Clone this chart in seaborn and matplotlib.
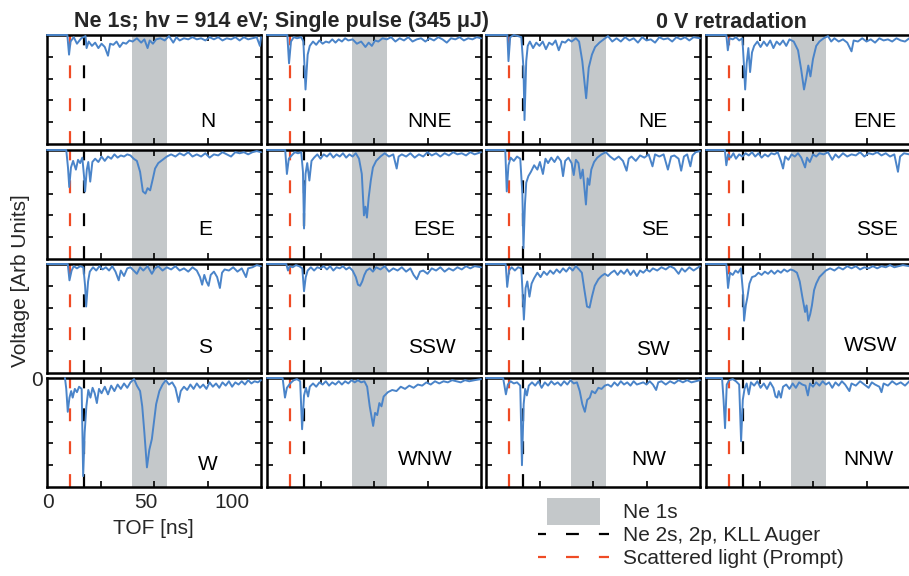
"""
Ne 1s TOF traces, 16 detector directions, 0 V retardation.
"""
import matplotlib
matplotlib.use("Agg")
import matplotlib.pyplot as plt
import seaborn as sns
from matplotlib.lines import Line2D
from matplotlib.patches import Patch, Rectangle
from matplotlib.legend_handler import HandlerPatch

sns.set_theme(style="white")
plt.rcParams["font.family"] = ["Liberation Sans", "DejaVu Sans"]

# %% data: (TOF [ns], voltage [arb])
PROMPT_T = 10.8            # scattered light
AUGER_T = 17.5             # Ne 2s, 2p, KLL Auger
NE1S_BAND = (39.7, 56.0)   # Ne 1s window

N_trace = [(0, 0), (9.5, 0), (10.3, -0.9), (11, -0.3), (12.5, -0.1), (14, -0.4), (16, -0.15), (18, -0.05),
           (18.5, -0.6), (19.5, -0.3), (21, -0.5), (22.5, -0.35), (24, -0.6), (25.5, -0.4), (27, -0.55),
           (28.5, -0.95), (29.5, -0.4), (31, -0.45), (32.5, -0.3), (34, -0.55), (35.5, -0.35), (37, -0.4),
           (38.5, -0.25), (40, -0.3), (42, -0.15), (44, -0.35), (45.5, -0.2), (47, -0.6), (48, -0.25),
           (49.5, -0.4), (51, -0.2), (53, -0.15), (55, -0.25), (57, -0.05), (59, -0.35), (60.5, -0.1),
           (62, -0.25), (64, -0.15), (66, -0.2), (68, -0.1), (70, -0.2), (72, -0.15), (74, -0.25), (76, -0.1),
           (78, -0.2), (80, -0.1), (82, -0.25), (84, -0.15), (86, -0.2), (88, -0.1), (90, -0.25), (92, -0.1),
           (94, -0.2), (96, -0.15), (98, -0.1), (99.5, -0.5), (100, -0.1)]
NNE_trace = [(0, 0), (9.5, 0), (10.3, -1.3), (11.2, -0.3), (12.5, -0.1), (14, -0.15), (16, -0.1), (17, -0.3),
             (18, -2.5), (19, -0.9), (20, -0.5), (21.5, -0.3), (23, -0.45), (24.5, -0.25), (26, -0.4),
             (27.5, -0.3), (29, -0.35), (30.5, -0.2), (32, -0.35), (33.5, -0.2), (35, -0.3), (36.5, -0.15),
             (38, -0.25), (40, -0.2), (42, -0.4), (44, -0.3), (46, -0.55), (47.5, -0.35), (49, -0.5),
             (50.5, -0.25), (52, -0.3), (54, -0.15), (56, -0.2), (58, -0.1), (60, -0.3), (62, -0.15),
             (64, -0.25), (66, -0.1), (68, -0.3), (70, -0.2), (72, -0.15), (74, -0.3), (76, -0.15), (78, -0.25),
             (80, -0.1), (82, -0.2), (84, -0.35), (86, -0.15), (88, -0.2), (90, -0.1), (92, -0.25), (94, -0.15),
             (96, -0.2), (98, -0.1), (100, -0.15)]
NE_trace = [(0, 0), (10, 0), (10.5, -1.2), (11.3, -0.1), (13, 0), (15, -0.05), (16.5, -0.1), (17.5, -1.5),
            (18, -3.9), (18.8, -1.2), (19.5, -0.5), (20.5, -0.3), (22, -0.6), (23.5, -0.35), (25, -0.5),
            (26.5, -0.3), (28, -0.65), (29.5, -0.35), (31, -0.45), (32.5, -0.25), (34, -0.7), (35.5, -0.3),
            (37, -0.35), (38.5, -0.2), (40, -0.3), (42, -0.15), (43.5, -0.3), (45, -1.2), (46.8, -2.9),
            (48, -1.5), (49.5, -0.9), (51, -0.55), (53, -0.35), (55, -0.2), (57, -0.05), (59, -0.3), (61, -0.15),
            (63, -0.3), (65, -0.1), (67, -0.25), (69, -0.15), (71, -0.35), (73, -0.1), (75, -0.25), (77, -0.2),
            (79, -0.35), (81, -0.1), (83, -0.2), (85, -0.15), (87, -0.3), (89, -0.1), (91, -0.2), (93, -0.1),
            (95, -0.25), (97, -0.1), (100, -0.15)]
ENE_trace = [(0, 0), (9.5, 0), (10.2, -0.7), (11, -0.15), (12.5, -0.2), (14, -0.1), (15.5, -0.25), (17, -0.15),
             (17.8, -1.5), (18.3, -2.5), (19, -1.3), (19.8, -0.6), (20.6, -1.7), (21.5, -0.8), (22.5, -0.5),
             (24, -0.3), (25.5, -0.55), (27, -0.3), (28.5, -0.5), (30, -0.25), (31.5, -0.6), (33, -0.3),
             (34.5, -0.45), (36, -0.25), (37.5, -0.5), (39, -0.2), (41, -0.3), (43, -0.7), (44.5, -1.6),
             (45.8, -2.5), (46.8, -2.0), (47.8, -1.4), (48.8, -1.9), (50, -1.1), (51.5, -0.5), (53, -0.3),
             (55, -0.15), (57, -0.05), (58.5, -0.3), (60, -0.15), (62, -0.3), (64, -0.2), (66, -0.35), (68, -0.75),
             (69, -0.25), (71, -0.3), (73, -0.15), (75, -0.3), (77, -0.2), (79, -0.35), (81, -0.15), (83, -0.25),
             (85, -0.2), (87, -0.3), (89, -0.15), (91, -0.25), (93, -0.3), (95, -0.15), (97, -0.25), (100, -0.2)]
E_trace = [(0, 0), (9, 0), (9.8, -0.8), (10.4, -1.7), (11.2, -0.8), (12.2, -0.5), (13.5, -0.9), (14.5, -0.45),
           (15.5, -0.6), (16.5, -0.35), (17.3, -1.2), (17.8, -1.9), (18.6, -0.9), (19.3, -0.55), (20.2, -1.45),
           (21.2, -0.55), (22.5, -0.4), (24, -0.55), (25.5, -0.3), (27, -0.5), (28.5, -0.3), (30, -0.4),
           (31.5, -0.2), (33, -0.35), (34.5, -0.25), (36, -0.3), (37.5, -0.2), (39, -0.25), (40.5, -0.4),
           (42, -0.5), (43.5, -1.0), (44.8, -1.9), (46, -2.0), (47, -1.75), (48.2, -1.85), (49.5, -1.3),
           (50.5, -0.85), (52, -0.6), (54, -0.45), (56, -0.3), (58, -0.2), (60, -0.3), (62, -0.15), (64, -0.25),
           (66, -0.1), (68, -0.3), (70, -0.2), (72, -0.3), (74, -0.15), (76, -0.35), (78, -0.2), (80, -0.25),
           (82, -0.1), (84, -0.2), (86, -0.3), (88, -0.1), (90, -0.15), (92, -0.1), (94, -0.2), (96, -0.1),
           (98, -0.05), (100, -0.1)]
ESE_trace = [(0, 0), (8.5, 0), (9.3, -1.1), (10.2, -0.4), (11.5, -0.25), (13, -0.1), (14.5, -0.15), (16, -0.1),
             (16.8, -1.0), (17.3, -3.6), (18, -1.1), (18.8, -0.6), (19.8, -1.4), (20.8, -0.5), (22, -0.35),
             (23.5, -0.2), (25, -0.4), (26.5, -0.2), (28, -0.3), (29.5, -0.15), (31, -0.35), (32.5, -0.2),
             (34, -0.3), (35.5, -0.15), (37, -0.35), (38.5, -0.2), (40, -0.3), (41.5, -0.15), (43, -0.4),
             (44.3, -1.1), (45.3, -3.0), (46, -2.6), (46.7, -3.1), (47.5, -2.2), (48.5, -1.4), (49.5, -0.8),
             (51, -0.5), (53, -0.3), (55, -0.15), (57, -0.3), (59, -0.2), (60.6, -0.85), (61.5, -0.3), (63, -0.2),
             (65, -0.3), (67, -0.15), (69, -0.35), (71, -0.2), (73, -0.3), (75, -0.1), (77, -0.25), (79, -0.15),
             (81, -0.3), (83, -0.15), (85, -0.25), (87, -0.1), (89, -0.2), (91, -0.15), (93, -0.25), (95, -0.1),
             (97, -0.2), (100, -0.1)]
SE_trace = [(0, 0), (9, 0), (9.7, -1.9), (10.5, -0.7), (11.5, -0.35), (13, -0.5), (14.5, -0.3), (16, -0.4),
            (17, -2.0), (17.5, -4.5), (18.2, -2.5), (18.8, -1.5), (19.8, -1.2), (21, -1.0), (22.5, -0.7),
            (24, -0.9), (25.2, -0.55), (26.6, -1.1), (27.8, -0.4), (29, -0.6), (30.5, -0.35), (32, -0.55),
            (33.5, -0.3), (35, -0.5), (36, -1.2), (37, -0.5), (38.5, -0.35), (40, -0.6), (41, -1.15), (42, -0.45),
            (43.2, -0.6), (44.2, -1.3), (45.2, -0.9), (46.7, -2.5), (47.5, -1.3), (48.3, -1.6), (49.2, -0.9),
            (50.5, -0.55), (52, -0.35), (54, -0.2), (56, -0.1), (58, -0.3), (60, -0.45), (62, -0.3), (64, -0.5),
            (65.7, -0.95), (66.7, -0.4), (68, -0.3), (70, -0.5), (72, -0.25), (74, -0.35), (76, -0.2),
            (77.8, -0.75), (79, -0.2), (81, -0.3), (83, -0.2), (85, -0.9), (86.5, -0.3), (88, -0.25), (90, -0.4),
            (91.2, -0.95), (92.5, -0.3), (94, -0.2), (95.5, -0.75), (96.5, -0.25), (98, -0.1), (100, -0.05)]
SSE_trace = [(0, 0), (8.8, 0), (9.5, -0.7), (10.3, -0.2), (11.5, -0.35), (12.8, -0.15), (14, -0.4), (15.5, -0.2),
             (17, -0.3), (18.5, -0.15), (20, -0.25), (21.5, -0.1), (23, -0.3), (24.5, -0.15), (26, -0.35),
             (27.5, -0.2), (29, -0.3), (30.5, -0.15), (32, -0.2), (33.5, -0.1), (35, -0.5), (36, -0.85),
             (37, -0.3), (38.5, -0.45), (40, -0.2), (41.5, -0.3), (43, -0.15), (44.5, -0.35), (45.5, -0.6),
             (46.3, -0.8), (47.2, -0.35), (48.5, -0.55), (50, -0.2), (51.5, -0.3), (53, -0.15), (55, -0.2),
             (57, -0.1), (59, -0.45), (60.5, -0.2), (62, -0.35), (64, -0.15), (66, -0.3), (68, -0.2), (70, -0.25),
             (72, -0.1), (74, -0.3), (76, -0.15), (78, -0.2), (80, -0.1), (82, -0.25), (84, -0.15), (86, -0.3),
             (88, -0.2), (89.7, -1.0), (90.7, -0.3), (92.5, -0.15), (95, -0.2), (97, -0.1), (100, -0.15)]
S_trace = [(0, 0), (9.7, 0), (10.5, -0.75), (11.5, -0.3), (12.5, -0.1), (14, -0.2), (15.5, -0.1), (17, -0.15),
           (17.8, -1.0), (18.3, -1.95), (19.2, -0.8), (20, -0.35), (21.5, -0.15), (23, -0.3), (24.5, -0.1),
           (26, -0.25), (27.5, -0.15), (29, -0.3), (30.5, -0.1), (32, -0.35), (33.5, -0.75), (34.5, -0.3),
           (36, -0.55), (37.5, -0.2), (39, -0.15), (40.5, -0.3), (42, -0.45), (43.5, -0.15), (45, -0.3),
           (47, -0.1), (49, -0.45), (50.5, -0.2), (52, -0.1), (54, -0.3), (56, -0.15), (58, -0.25), (60, -0.1),
           (62, -0.3), (64, -0.2), (66, -0.35), (68, -0.15), (70, -0.3), (71.5, -0.6), (72.5, -0.95),
           (73.5, -0.5), (74.5, -0.8), (75.5, -1.0), (76.5, -0.5), (78, -0.35), (79.5, -0.6), (80.8, -1.1),
           (81.8, -0.4), (83, -0.25), (85, -0.3), (87, -0.15), (89, -0.35), (91, -0.2), (93, -0.6), (94, -0.2),
           (96, -0.15), (98, -0.05), (100, -0.1)]
SSW_trace = [(0, 0), (9, 0), (9.8, -0.3), (10.6, -0.1), (12, -0.15), (13.5, -0.05), (15, -0.1), (16.5, -0.2),
             (17.3, -1.25), (18.1, -0.6), (19, -0.3), (20.5, -0.15), (22, -0.3), (23.5, -0.15), (25, -0.2),
             (26.5, -0.1), (28, -0.25), (29.5, -0.1), (31, -0.3), (32.5, -0.15), (34, -0.2), (35.5, -0.1),
             (37, -0.25), (38.5, -0.15), (40, -0.3), (41.5, -0.6), (42.5, -0.95), (43.5, -1.0), (44.5, -0.8),
             (45.5, -0.5), (46.5, -0.3), (48, -0.2), (49.5, -0.35), (51, -0.15), (53, -0.25), (55, -0.1),
             (57, -0.35), (59, -0.2), (61, -0.3), (63, -0.15), (65, -0.35), (67, -0.2), (68.5, -0.5), (70, -0.7),
             (71.5, -0.35), (73, -0.3), (75, -0.45), (77, -0.2), (79, -0.3), (81, -0.15), (83, -0.35), (85, -0.2),
             (87, -0.3), (89, -0.15), (91, -0.25), (93, -0.1), (95, -0.2), (97, -0.1), (100, -0.15)]
SW_trace = [(0, 0), (9.2, 0), (9.9, -1.05), (10.8, -0.3), (12, -0.15), (13.5, -0.3), (15, -0.15), (16.5, -0.2),
            (17.2, -1.5), (17.7, -2.55), (18.5, -1.1), (19.3, -0.8), (20.3, -1.5), (21.3, -0.9), (22.5, -0.65),
            (24, -0.4), (25.5, -0.6), (27, -0.35), (28.5, -0.5), (30, -0.3), (31.5, -0.45), (33, -0.25),
            (34.5, -0.4), (36, -0.2), (37.5, -0.35), (39, -0.15), (40.5, -0.3), (42, -0.1), (43.5, -0.25),
            (44.8, -0.4), (46, -1.2), (47.2, -1.95), (48.4, -2.0), (49.5, -1.5), (50.8, -1.0), (52.5, -0.7),
            (54, -0.55), (55.5, -0.45), (57, -0.55), (58.5, -0.4), (60, -0.3), (61.5, -0.5), (63, -0.3),
            (64.5, -0.45), (66, -0.25), (67.5, -0.5), (69, -0.3), (70.5, -0.55), (72, -0.3), (73.5, -0.4),
            (75, -0.25), (76.5, -0.35), (78, -0.2), (80, -0.3), (82, -0.15), (84, -0.25), (86, -0.1), (88, -0.2),
            (90, -0.45), (91.5, -0.2), (93, -0.35), (95, -0.15), (97, -0.3), (100, -0.1)]
WSW_trace = [(0, 0), (9.5, 0), (10.3, -1.1), (11.2, -0.4), (12.5, -0.5), (13.8, -0.3), (15, -0.4), (16.3, -0.2),
             (17.3, -1.3), (17.8, -2.6), (18.6, -1.9), (19.3, -1.55), (20.3, -0.9), (21.5, -0.6), (23, -0.55),
             (24.5, -0.4), (26, -0.5), (27.5, -0.35), (29, -0.45), (30.5, -0.3), (32, -0.45), (33.5, -0.3),
             (35, -0.4), (36.5, -0.25), (38, -0.35), (39.5, -0.25), (41, -0.3), (42.5, -0.4), (43.8, -0.8),
             (45, -1.5), (46.3, -2.2), (47, -1.9), (47.8, -2.6), (48.7, -2.3), (49.5, -1.9), (50.5, -1.2),
             (51.5, -0.9), (53, -0.6), (54.5, -0.45), (56, -0.3), (58, -0.2), (60, -0.3), (62, -0.15), (64, -0.25),
             (66, -0.1), (68, -0.2), (70, -0.1), (72, -0.25), (74, -0.15), (76, -0.2), (78, -0.1), (80, -0.2),
             (82, -0.1), (84, -0.15), (86, -0.05), (88, -0.15), (90, -0.1), (92, -0.05), (95, -0.1), (100, -0.05)]
W_trace = [(8.4, 0), (9, -0.5), (9.7, -1.55), (10.5, -0.9), (11.3, -0.6), (12, -0.9), (13, -0.5), (14, -0.65),
           (15, -0.4), (16.2, -0.5), (16.9, -4.5), (17.6, -2.5), (18.4, -1.3), (19.3, -0.55), (20.3, -0.9),
           (21.3, -0.45), (22.3, -0.7), (23.3, -1.15), (24.3, -0.5), (25.5, -0.7), (27, -0.4), (28.5, -0.75),
           (30, -0.35), (31.5, -0.6), (33, -0.3), (34.5, -0.5), (36, -0.25), (37.5, -0.45), (39, -0.2),
           (40.7, -0.05), (42, -0.35), (43.5, -0.6), (44.5, -1.3), (45.5, -2.5), (46.7, -4.1), (47.8, -3.3),
           (49, -2.8), (50, -2.0), (51, -1.2), (52.5, -0.6), (54, -0.3), (55.5, -0.1), (57, -0.3), (58.5, -0.2),
           (60, -0.45), (61.5, -1.1), (62.5, -0.6), (64, -0.4), (65.5, -0.55), (67, -0.3), (68.5, -0.5),
           (70, -0.25), (71.5, -0.45), (73, -0.3), (74.5, -0.5), (76, -0.2), (77.5, -0.4), (79, -0.25),
           (80.5, -0.45), (82, -0.2), (83.5, -0.35), (85, -0.15), (86.5, -0.4), (88, -0.2), (89.5, -0.3),
           (91, -0.15), (92.5, -0.3), (94, -0.1), (95.5, -0.25), (97, -0.15), (98.5, -0.2), (100, -0.1)]
WNW_trace = [(0, 0), (7.3, 0), (8.4, -0.9), (9.3, -0.45), (10.8, -0.25), (12.5, -0.1), (14, -0.05), (15.5, -0.15),
             (16.4, -2.35), (17.3, -0.8), (18.2, -0.45), (19.2, -0.85), (20, -0.4), (21.5, -0.25), (23, -0.4),
             (24.5, -0.2), (26, -0.3), (27.5, -0.15), (29, -0.35), (30.5, -0.2), (32, -0.3), (33.5, -0.15),
             (35, -0.3), (36.5, -0.15), (38, -0.25), (39.5, -0.1), (41, -0.2), (42.5, -0.1), (44, -0.2),
             (45.5, -0.15), (46.8, -0.4), (48, -1.3), (49.6, -2.2), (50.5, -1.6), (51.5, -1.7), (52.5, -1.15),
             (53.5, -1.3), (54.5, -0.85), (56.5, -0.65), (58.5, -0.55), (60.5, -0.6), (62.5, -0.4), (64.5, -0.5),
             (66.5, -0.35), (68.5, -0.45), (70.5, -0.3), (72.5, -0.35), (74.5, -0.2), (76.5, -0.3), (78.5, -0.15),
             (80.5, -0.25), (82.5, -0.15), (84.5, -0.2), (86.5, -0.1), (88.5, -0.15), (90.5, -0.2), (92.5, -0.1),
             (94.5, -0.15), (97, -0.1), (100, -0.05)]
NW_trace = [(0, 0), (8, 0), (9.3, -0.75), (10.2, -0.3), (11.5, -0.15), (13, -0.25), (14.5, -0.2), (16, -0.35),
            (16.8, -4.0), (17.6, -1.2), (18.3, -0.5), (19.1, -0.8), (20, -0.35), (21.5, -0.2), (23, -0.35),
            (24.5, -0.15), (26, -0.45), (27.5, -0.2), (29, -0.35), (30.5, -0.15), (32, -0.3), (33.5, -0.2),
            (35, -0.35), (36.5, -0.15), (38, -0.3), (39.5, -0.1), (41, -0.25), (42.5, -0.2), (43.8, -0.6),
            (45, -1.2), (46.2, -1.55), (47.3, -1.0), (48.5, -0.9), (49.5, -0.6), (51, -0.7), (52.5, -0.45),
            (54, -0.5), (55.5, -0.35), (57, -0.3), (58.5, -0.4), (60, -0.2), (61.5, -0.35), (63, -0.15),
            (64.5, -0.3), (66, -0.2), (67.5, -0.35), (69, -0.15), (70.5, -0.3), (72, -0.25), (73.5, -0.2),
            (75, -0.3), (76.5, -0.15), (78, -0.3), (79.5, -0.55), (80.5, -0.2), (82, -0.15), (84, -0.3),
            (86, -0.15), (88, -0.25), (90, -0.1), (92, -0.2), (94, -0.1), (96, -0.2), (98, -0.15), (100, -0.1)]
NNW_trace = [(0, 0), (7.5, 0), (8.2, -1.0), (8.9, -2.3), (9.7, -0.3), (10.8, -0.1), (12.5, -0.05), (14, -0.15),
             (15.5, -0.3), (16.4, -2.9), (17.2, -1.0), (18, -0.5), (19, -0.25), (20, -0.75), (21, -0.2),
             (22.5, -0.35), (24, -0.15), (25.5, -0.45), (27, -0.25), (28.5, -0.5), (30, -0.2), (31.5, -0.45),
             (32.5, -0.85), (33.3, -0.9), (34, -0.6), (35, -0.9), (36, -0.4), (37.5, -0.3), (39, -0.5),
             (40.5, -0.25), (42, -0.45), (43.5, -0.2), (45, -0.3), (46.5, -0.35), (47.6, -0.8), (48.6, -0.25),
             (50, -0.4), (51.5, -0.2), (53, -0.35), (54.5, -0.15), (56, -0.3), (57.5, -0.2), (59, -0.45),
             (60.5, -0.2), (62, -0.35), (63.5, -0.15), (65, -0.3), (67, -0.6), (68, -0.25), (70, -0.35),
             (72, -0.15), (74, -0.3), (76, -0.45), (77.5, -0.2), (79, -0.3), (81, -0.4), (82, -0.65), (83, -0.25),
             (85, -0.35), (87, -0.15), (89, -0.3), (91, -0.2), (93, -0.35), (95, -0.15), (97, -0.25), (100, -0.1)]

PANELS = ["N", "NNE", "NE", "ENE",
          "E", "ESE", "SE", "SSE",
          "S", "SSW", "SW", "WSW",
          "W", "WNW", "NW", "NNW"]
TRACES = [N_trace, NNE_trace, NE_trace, ENE_trace,
          E_trace, ESE_trace, SE_trace, SSE_trace,
          S_trace, SSW_trace, SW_trace, WSW_trace,
          W_trace, WNW_trace, NW_trace, NNW_trace]

# %% layout (pixels of the 909x576 canvas)
FW, FH = 909, 576
COL_LEFT = [47, 267, 486, 706]
ROW_TOP = [35, 150, 264, 378]
AX_W, AX_H = 214, 109
LABEL_XY = [(0.75, 0.21), (0.76, 0.21), (0.78, 0.21), (0.79, 0.21),
            (0.74, 0.27), (0.78, 0.27), (0.79, 0.27), (0.80, 0.27),
            (0.74, 0.23), (0.77, 0.23), (0.78, 0.22), (0.77, 0.25),
            (0.75, 0.21), (0.74, 0.25), (0.76, 0.25), (0.76, 0.25)]

BLUE = "#4a84c9"
RED = "#ef4b25"
BAND = "#c4c8ca"
DASH = (5.8, 9.0)          # in line widths: ~13 px on, ~20 px off

fig = plt.figure(figsize=(FW / 100, FH / 100), dpi=100)

for i, (name, trace) in enumerate(zip(PANELS, TRACES)):
    r, c = divmod(i, 4)
    ax = fig.add_axes([COL_LEFT[c] / FW, 1 - (ROW_TOP[r] + AX_H) / FH, AX_W / FW, AX_H / FH])
    ax.axvspan(*NE1S_BAND, color=BAND, lw=0, zorder=0.5)
    ax.axvline(PROMPT_T, color=RED, lw=1.6, dashes=DASH, zorder=1)
    ax.axvline(AUGER_T, color="black", lw=1.6, dashes=DASH, zorder=1)
    t, v = zip(*trace)
    sns.lineplot(x=list(t), y=list(v), ax=ax, color=BLUE, linewidth=1.4,
                 estimator=None, sort=False, zorder=4, clip_on=False)
    ax.set_xlim(0, 100)
    ax.set_ylim(-5, 0)
    ax.set_xticks([25, 50, 75])
    ax.set_yticks([-4, -3, -2, -1])
    ax.tick_params(direction="in", length=4, width=1.2, color="black",
                   top=True, bottom=True, left=True, right=True,
                   labelbottom=False, labelleft=False)
    ax.set_xlabel("")
    ax.set_ylabel("")
    for sp in ax.spines.values():
        sp.set_linewidth(1.8)
        sp.set_color("black")
    ax.text(*LABEL_XY[i], name, transform=ax.transAxes, ha="center", va="center",
            fontsize=15, color="black")

# titles and axis text
fig.text(74 / FW, 1 - 22 / FH, "Ne 1s; hv = 914 eV; Single pulse (345 \u03bcJ)",
         fontsize=15.5, fontweight="bold", ha="left", va="center")
fig.text(731 / FW, 1 - 22 / FH, "0 V retradation", fontsize=15.5, fontweight="bold",
         ha="center", va="center")
fig.text(21 / FW, 1 - 281 / FH, "Voltage [Arb Units]", rotation=90, fontsize=15,
         ha="center", va="center")
fig.text(37 / FW, 1 - 380 / FH, "0", fontsize=15, ha="center", va="center")
for lab, px in zip(["0", "50", "100"], [48, 146, 232]):
    fig.text(px / FW, 1 - 503 / FH, lab, fontsize=15, ha="center", va="center")
fig.text(153 / FW, 1 - 528 / FH, "TOF [ns]", fontsize=15, ha="center", va="center")


# legend
def band_patch(legend, orig_handle, xdescent, ydescent, width, height, fontsize):
    return Rectangle((-xdescent + 0.13 * width, -ydescent - 0.45 * height), 0.74 * width, 1.8 * height)


LEG_LS = (2.2, (5.8, 9.0))   # phase shifted so the sample reads "- — -"
handles = [Patch(facecolor=BAND, edgecolor="none", label="Ne 1s"),
           Line2D([], [], color="black", lw=1.6, linestyle=LEG_LS, label="Ne 2s, 2p, KLL Auger"),
           Line2D([], [], color=RED, lw=1.6, linestyle=LEG_LS, label="Scattered light (Prompt)")]
fig.legend(handles=handles, loc="upper left", bbox_to_anchor=(538 / FW, 1 - 503 / FH),
           frameon=False, fontsize=15, handlelength=3.4, handletextpad=0.7,
           labelspacing=0.2, borderpad=0, borderaxespad=0,
           handler_map={Patch: HandlerPatch(patch_func=band_patch)})

fig.savefig("out.png", dpi=100)
